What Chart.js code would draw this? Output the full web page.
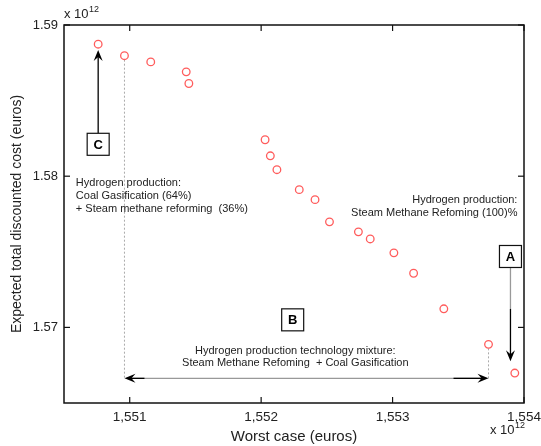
<!DOCTYPE html>
<html>
<head>
<meta charset="utf-8">
<script src="https://cdn.jsdelivr.net/npm/chart.js@4.4.0/dist/chart.umd.min.js"></script>
<style>
  html, body { margin: 0; padding: 0; background: #fff; }
  #wrap { width: 541px; height: 446px; }
</style>
</head>
<body>
<div id="wrap"><canvas id="pareto"></canvas></div>
<script>
// Pareto front, values in units of 10^12 euros
const worstCase = [1.55076, 1.55096, 1.55116, 1.55143, 1.55145, 1.55203, 1.55207, 1.55212, 1.55229,
                   1.55241, 1.55252, 1.55274, 1.55283, 1.55301, 1.55316, 1.55339, 1.55373, 1.55393];
const expectedCost = [1.58873, 1.58797, 1.58756, 1.58690, 1.58613, 1.58241, 1.58135, 1.58043, 1.57911,
                      1.57845, 1.57698, 1.57632, 1.57585, 1.57493, 1.57358, 1.57123, 1.56888, 1.56698];
const xTicks = [1.551, 1.552, 1.553, 1.554];
const yTicks = [1.57, 1.58, 1.59];

const labelsLeft = ['Hydrogen production:', 'Coal Gasification (64%)', '+ Steam methane reforming  (36%)'];
const labelsRight = ['Hydrogen production:', 'Steam Methane Refoming (100)%'];
const labelsMix = ['Hydrogen production technology mixture:', 'Steam Methane Refoming  + Coal Gasification'];

const FONT = '"Liberation Sans", Arial, sans-serif';
const INK = '#222';

// arrow with a barbed head at (x2, y2)
const arrowHead = (ctx, x1, y1, x2, y2) => {
    const a = Math.atan2(y2 - y1, x2 - x1);
    const len = 11, half = 4.5, back = 7;
    ctx.save();
    ctx.translate(x2, y2);
    ctx.rotate(a);
    ctx.beginPath();
    ctx.moveTo(0, 0);
    ctx.lineTo(-len, -half);
    ctx.lineTo(-back, 0);
    ctx.lineTo(-len, half);
    ctx.closePath();
    ctx.fillStyle = '#000';
    ctx.fill();
    ctx.restore();
};

const line = (ctx, x1, y1, x2, y2, color, width, dash) => {
    ctx.save();
    ctx.beginPath();
    ctx.setLineDash(dash || []);
    ctx.strokeStyle = color;
    ctx.lineWidth = width;
    ctx.moveTo(x1, y1);
    ctx.lineTo(x2, y2);
    ctx.stroke();
    ctx.restore();
};

const letterBox = (ctx, cx, cy, letter) => {
    ctx.save();
    ctx.fillStyle = '#fff';
    ctx.fillRect(cx - 11, cy - 11, 22, 22);
    ctx.strokeStyle = '#111';
    ctx.lineWidth = 1.2;
    ctx.strokeRect(cx - 11, cy - 11, 22, 22);
    ctx.fillStyle = '#000';
    ctx.font = 'bold 13px ' + FONT;
    ctx.textAlign = 'center';
    ctx.textBaseline = 'middle';
    ctx.fillText(letter, cx, cy + 1);
    ctx.restore();
};

const expLabel = (ctx, x, y) => {
    ctx.save();
    ctx.fillStyle = INK;
    ctx.textAlign = 'left';
    ctx.textBaseline = 'alphabetic';
    ctx.font = '13px ' + FONT;
    ctx.fillText('x 10', x, y);
    const w = ctx.measureText('x 10').width;
    ctx.font = '9px ' + FONT;
    ctx.fillText('12', x + w + 0.5, y - 6);
    ctx.restore();
};

// box, inward ticks and annotations
const decor = {
    id: 'decor',
    beforeDatasetsDraw(chart) {
        const { ctx, chartArea: a, scales: { x, y } } = chart;
        const X = v => x.getPixelForValue(v);
        const Y = v => y.getPixelForValue(v);

        ctx.save();
        ctx.strokeStyle = '#111';
        ctx.lineWidth = 1.5;
        ctx.strokeRect(a.left, a.top, a.right - a.left, a.bottom - a.top);
        ctx.restore();
        xTicks.forEach(v => {
            line(ctx, X(v), a.bottom, X(v), a.bottom - 6, '#111', 1.2);
            line(ctx, X(v), a.top, X(v), a.top + 6, '#111', 1.2);
        });
        yTicks.forEach(v => {
            line(ctx, a.left, Y(v), a.left + 6, Y(v), '#111', 1.2);
            line(ctx, a.right, Y(v), a.right - 6, Y(v), '#111', 1.2);
        });

        // B: double arrow between the two mixture extremes
        const arrowY = Y(1.56663);
        const xl = X(worstCase[1]), xr = X(worstCase[16]);
        line(ctx, xl, Y(expectedCost[1]) + 4, xl, arrowY, '#aaa', 1, [2, 2]);
        line(ctx, xr, Y(expectedCost[16]) + 4, xr, arrowY, '#aaa', 1, [2, 2]);
        line(ctx, xl + 6, arrowY, xr - 6, arrowY, '#999', 1.3);
        line(ctx, xl + 6, arrowY, xl + 20, arrowY, '#000', 1.3);
        line(ctx, xr - 35, arrowY, xr - 6, arrowY, '#000', 1.3);
        arrowHead(ctx, xr, arrowY, xl, arrowY);
        arrowHead(ctx, xl, arrowY, xr, arrowY);
        letterBox(ctx, X(1.55224), Y(1.57050), 'B');

        // A: arrow down to the cheapest worst case point
        const ax = X(1.553897), ay = Y(1.57469);
        const aTip = Y(1.56776);
        line(ctx, ax, ay + 11, ax, (ay + aTip) / 2, '#999', 1.3);
        line(ctx, ax, (ay + aTip) / 2, ax, aTip - 5, '#000', 1.3);
        arrowHead(ctx, ax, ay, ax, aTip);
        letterBox(ctx, ax, ay, 'A');

        // C: arrow up to the lowest worst case point
        const cx = X(worstCase[0]), cy = Y(1.58211);
        const cTip = Y(1.58835);
        line(ctx, cx, cy - 11, cx, cTip + 5, '#000', 1.3);
        arrowHead(ctx, cx, cy, cx, cTip);
        letterBox(ctx, cx, cy, 'C');

        ctx.save();
        ctx.fillStyle = INK;
        ctx.font = '11px ' + FONT;
        ctx.textBaseline = 'middle';
        ctx.textAlign = 'left';
        [1.57957, 1.57871, 1.57785].forEach((v, i) => ctx.fillText(labelsLeft[i], X(1.55059), Y(v)));
        ctx.textAlign = 'right';
        [1.57845, 1.57759].forEach((v, i) => ctx.fillText(labelsRight[i], X(1.55395), Y(v)));
        ctx.textAlign = 'center';
        [1.56842, 1.56762].forEach((v, i) => ctx.fillText(labelsMix[i], X(1.55226), Y(v)));
        ctx.restore();

        expLabel(ctx, a.left, a.top - 7);
        expLabel(ctx, a.right - 34, chart.height - 12);
    }
};

new Chart(document.getElementById('pareto'), {
    type: 'scatter',
    data: {
        datasets: [{
            data: worstCase.map((v, i) => ({ x: v, y: expectedCost[i] })),
            pointStyle: 'circle',
            pointRadius: 3.8,
            pointBorderWidth: 1.3,
            pointBorderColor: '#ff5c5c',
            pointBackgroundColor: 'rgba(0,0,0,0)',
            showLine: false
        }]
    },
    options: {
        responsive: true,
        maintainAspectRatio: false,
        animation: false,
        layout: { padding: { left: 9, right: 17, top: 25, bottom: 0 } },
        plugins: { legend: { display: false }, tooltip: { enabled: false } },
        scales: {
            x: {
                type: 'linear',
                min: 1.5505,
                max: 1.554,
                afterBuildTicks: s => { s.ticks = xTicks.map(v => ({ value: v })); },
                afterFit: s => { s.height = 43; s.paddingLeft = 0; s.paddingRight = 0; },
                grid: { display: false, drawTicks: false },
                border: { display: false },
                ticks: {
                    padding: 6,
                    color: INK,
                    font: { family: FONT, size: 13.5 },
                    maxRotation: 0,
                    callback: v => v.toFixed(3).replace('.', ',')
                },
                title: {
                    display: true,
                    text: 'Worst case (euros)',
                    color: INK,
                    font: { family: FONT, size: 15 },
                    padding: { top: 0, bottom: 0 }
                }
            },
            y: {
                type: 'linear',
                min: 1.565,
                max: 1.59,
                afterBuildTicks: s => { s.ticks = yTicks.map(v => ({ value: v })); },
                afterFit: s => { s.width = 55; s.paddingTop = 0; s.paddingBottom = 0; },
                grid: { display: false, drawTicks: false },
                border: { display: false },
                ticks: {
                    padding: 6,
                    color: INK,
                    font: { family: FONT, size: 13 },
                    callback: v => v.toFixed(2)
                },
                title: {
                    display: true,
                    text: 'Expected total discounted cost (euros)',
                    color: INK,
                    font: { family: FONT, size: 14 },
                    padding: { top: 0, bottom: 1 }
                }
            }
        }
    },
    plugins: [decor]
});
</script>
</body>
</html>
